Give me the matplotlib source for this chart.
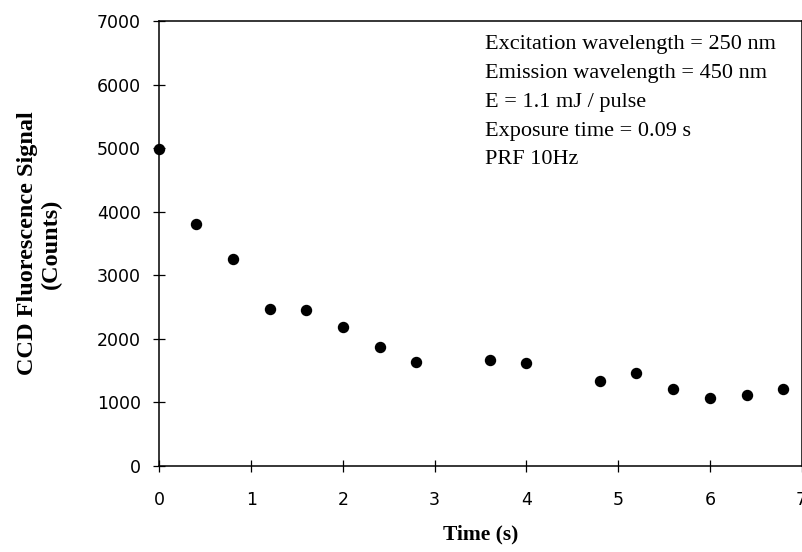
import matplotlib
matplotlib.use("Agg")
import matplotlib.pyplot as plt

# data
time_s = [0.0, 0.4, 0.8, 1.2, 1.6, 2.0, 2.4, 2.8, 3.6, 4.0, 4.8, 5.2, 5.6, 6.0, 6.4, 6.8]
counts = [4980, 3800, 3250, 2475, 2450, 2190, 1870, 1640, 1665, 1620, 1340, 1460, 1210, 1065, 1110, 1210]

x_ticks = [0, 1, 2, 3, 4, 5, 6, 7]
y_ticks = [0, 1000, 2000, 3000, 4000, 5000, 6000, 7000]

notes = [
    "Excitation wavelength = 250 nm",
    "Emission wavelength = 450 nm",
    "E = 1.1 mJ / pulse",
    "Exposure time = 0.09 s",
    "PRF 10Hz",
]

W, H = 803, 552
fig = plt.figure(figsize=(W / 100, H / 100), dpi=100)
ax = fig.add_axes([159.5 / W, 86 / H, 642.1 / W, 445 / H])

ax.plot(time_s, counts, "o", color="black", markersize=7.2, clip_on=False)

ax.set_xlim(0, 7)
ax.set_ylim(0, 7000)
ax.set_xticks(x_ticks)
ax.set_yticks(y_ticks)

for s in ax.spines.values():
    s.set_linewidth(1.1)

ax.tick_params(axis="both", direction="inout", length=8.6, width=0.9,
               labelsize=12.5, colors="black")
ax.tick_params(axis="x", pad=14)
ax.tick_params(axis="y", pad=9)
for lab in ax.get_xticklabels() + ax.get_yticklabels():
    lab.set_family("DejaVu Sans")

serif = "Liberation Serif"
ax.set_xlabel("Time (s)", fontsize=15.5, fontweight="bold", family=serif)
ax.xaxis.set_label_coords(0.5, (466 - 524) / 445)
ax.set_ylabel("CCD Fluorescence Signal\n(Counts)", fontsize=17.5,
              fontweight="bold", family=serif, linespacing=1.15)
ax.yaxis.set_label_coords((62 - 159.5) / 642.1, 0.5)

line_y = [45, 73.5, 103, 131.5, 160]
for txt, yc in zip(notes, line_y):
    ax.text((485 - 159.5) / 642.1, (466 - yc) / 445, txt,
            transform=ax.transAxes, ha="left", va="center",
            fontsize=16, family=serif)

fig.savefig("out.png", dpi=100)
